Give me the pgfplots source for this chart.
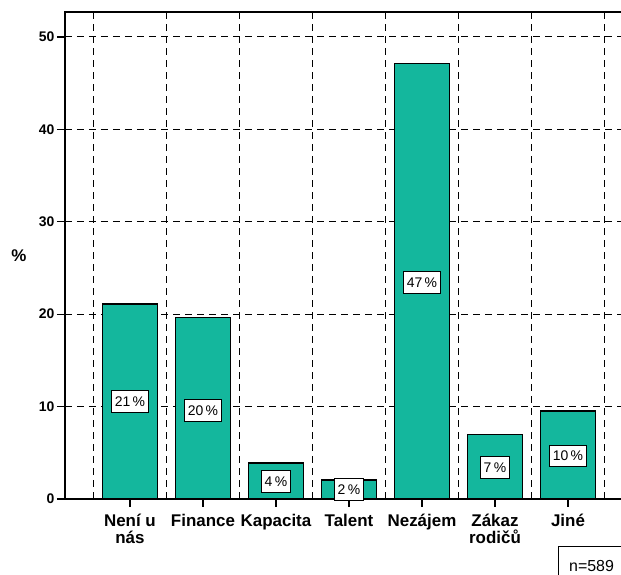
\documentclass[border=0pt]{standalone}
\usepackage{pgfplots}
\pgfplotsset{compat=1.18}
\usepackage{fontspec}
\setmainfont{Liberation Sans}
\definecolor{barteal}{RGB}{20,183,157}
\begin{document}
\begin{tikzpicture}
\path[use as bounding box] (-65bp,-76bp) rectangle (556bp,499bp);
\begin{axis}[
  scale only axis,
  width=560bp, height=487bp,
  xmin=-0.89, xmax=6.781,
  ymin=0, ymax=52.7,
  ytick={0,10,20,30,40,50},
  xtick={0,1,2,3,4,5,6},
  xticklabels={{Není u\\nás},{Finance},{Kapacita},{Talent},{Nezájem},{Zákaz\\rodičů},{Jiné}},
  minor xtick={-0.5,0.5,1.5,2.5,3.5,4.5,5.5,6.5},
  minor tick length=0pt,
  major tick length=8bp,
  tick align=outside,
  tick pos=left,
  tick style={black, line width=1.2bp},
  ymajorgrids, xminorgrids,
  major grid style={black, line width=1bp, dash pattern=on 7bp off 5bp},
  minor grid style={black, line width=1bp, dash pattern=on 7bp off 5bp},
  axis line style={black, line width=1.3bp},
  /pgf/number format/assume math mode=true,
  yticklabel style={font=\bfseries\fontsize{14}{15}\selectfont, xshift=1bp},
  xticklabel style={font=\bfseries\fontsize{17}{17}\selectfont, align=center, yshift=-4bp},
  ylabel={\%},
  every axis y label/.style={at={(rel axis cs:0,0.5)}, xshift=-46bp, anchor=center, font=\bfseries\fontsize{17}{17}\selectfont},
]
\addplot[ybar, bar width=0.75, fill=barteal, draw=black, line width=1.2bp]
  coordinates {(0,21.1) (1,19.6) (2,3.9) (3,2.06) (4,47.1) (5,7.0) (6,9.52)};
\addplot[draw=none, mark=none, nodes near coords, point meta=explicit symbolic,
  every node near coord/.append style={anchor=center, draw=black, fill=white, line width=1bp,
    inner xsep=3bp, inner ysep=6bp, font=\fontsize{14}{14}\selectfont}]
  coordinates {(0,10.55)[21\,\%] (1,9.6)[20\,\%] (2,1.9)[4\,\%] (3,1.05)[2\,\%] (4,23.4)[47\,\%] (5,3.4)[7\,\%] (6,4.65)[10\,\%]};
\end{axis}
\draw[black, line width=1bp] (493bp,-47bp) rectangle (620bp,-120bp);
\node[anchor=base west, inner sep=0pt, font=\fontsize{16}{16}\selectfont] at (504bp,-72bp) {n=589};
\end{tikzpicture}
\end{document}
